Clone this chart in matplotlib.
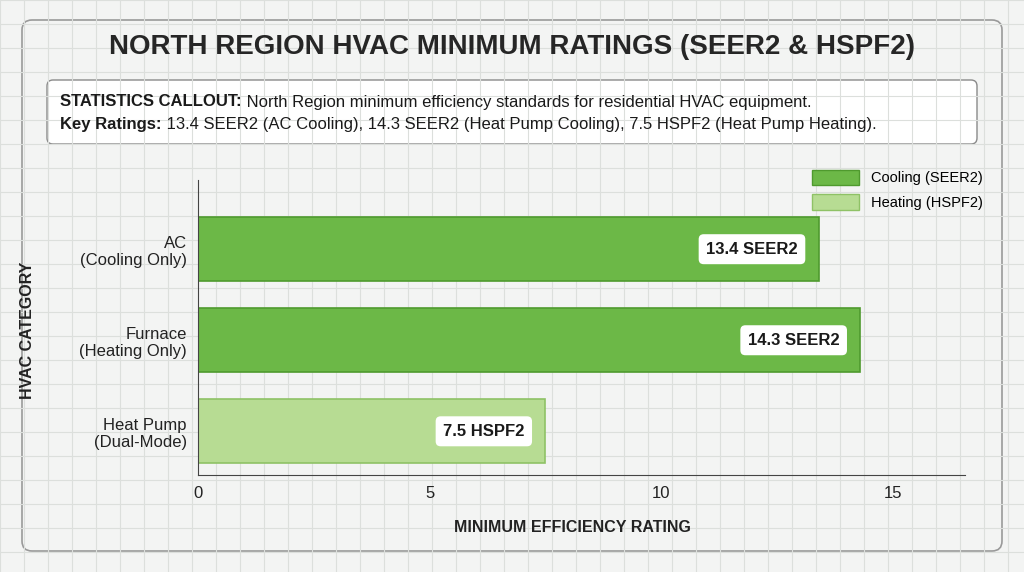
import matplotlib
matplotlib.use("Agg")
import matplotlib.pyplot as plt
from matplotlib.patches import FancyBboxPatch, Patch

plt.rcParams['font.family'] = ['Liberation Sans', 'DejaVu Sans']

categories = ["AC\n(Cooling Only)", "Furnace\n(Heating Only)", "Heat Pump\n(Dual-Mode)"]
values = [13.4, 14.3, 7.5]
labels = ["13.4 SEER2", "14.3 SEER2", "7.5 HSPF2"]
kinds = ["cool", "cool", "heat"]
ticks = [0, 5, 10, 15]

fc = {"cool": "#6cb847", "heat": "#b7dc93"}
ec = {"cool": "#4f9a2e", "heat": "#8fc266"}

fig = plt.figure(figsize=(10.24, 5.72), dpi=100)
fig.patch.set_facecolor("#f3f4f3")
bg = fig.add_axes([0, 0, 1, 1], zorder=-10)
bg.set_xlim(0, 1024); bg.set_ylim(572, 0); bg.axis("off")
for x in range(0, 1025, 24):
    bg.axvline(x, color="#dcdfdc", lw=0.8)
for y in range(0, 573, 24):
    bg.axhline(y, color="#dcdfdc", lw=0.8)
bg.add_patch(FancyBboxPatch((22, 20), 980, 531, boxstyle="round,pad=0,rounding_size=10",
                            fc="none", ec="#9a9a9a", lw=1.2))
bg.text(512, 47, "NORTH REGION HVAC MINIMUM RATINGS (SEER2 & HSPF2)", ha="center", va="center",
        fontsize=20, fontweight="bold", color="#262626")
bg.add_patch(FancyBboxPatch((47, 80), 930, 64, boxstyle="round,pad=0,rounding_size=6",
                            fc="white", ec="#8a8a8a", lw=1))
t1 = bg.text(60, 102, "STATISTICS CALLOUT:", va="center", fontsize=12, fontweight="bold", color="#1a1a1a")
bg.annotate(" North Region minimum efficiency standards for residential HVAC equipment.",
            xy=(1, 0.5), xycoords=t1, va="center", fontsize=12, color="#1a1a1a")
t2 = bg.text(60, 124, "Key Ratings:", va="center", fontsize=12, fontweight="bold", color="#1a1a1a")
bg.annotate(" 13.4 SEER2 (AC Cooling), 14.3 SEER2 (Heat Pump Cooling), 7.5 HSPF2 (Heat Pump Heating).",
            xy=(1, 0.5), xycoords=t2, va="center", fontsize=12, color="#1a1a1a")
bg.text(28, 330, "HVAC CATEGORY", rotation=90, ha="center", va="center", fontsize=11.5, fontweight="bold", color="#222")
bg.text(572, 527, "MINIMUM EFFICIENCY RATING", ha="center", va="center", fontsize=11.5, fontweight="bold", color="#222")

ax = fig.add_axes([198/1024, 1-475/572, (965-198)/1024, (475-180)/572])
ax.patch.set_alpha(0)
ypos = list(range(len(categories)))
for i, (v, k, lab) in enumerate(zip(values, kinds, labels)):
    ax.barh(i, v, height=0.70, color=fc[k], edgecolor=ec[k], lw=1.2)
    ax.text(v - 0.45, i, lab, ha="right", va="center", fontsize=12, fontweight="bold", color="#1a1a1a",
            bbox=dict(boxstyle="round,pad=0.45,rounding_size=0.3", fc="white", ec="none"))
ax.set_xlim(0, 16.56)
ax.set_ylim(2.48, -0.76)
ax.set_yticks(ypos)
ax.set_yticklabels(categories, fontsize=12, color="#222")
ax.set_xticks(ticks)
ax.set_xticklabels([str(t) for t in ticks], fontsize=12, color="#222")
ax.tick_params(length=0, pad=8)
for s in ["top", "right"]:
    ax.spines[s].set_visible(False)
for s in ["left", "bottom"]:
    ax.spines[s].set_color("#444")
ax.legend(handles=[Patch(fc=fc["cool"], ec=ec["cool"], label="Cooling (SEER2)"),
                   Patch(fc=fc["heat"], ec=ec["heat"], label="Heating (HSPF2)")],
          loc="upper right", bbox_to_anchor=(1.04, 1.08), frameon=False, fontsize=10.5,
          handlelength=3.2, handleheight=1.3, labelspacing=0.6)
fig.savefig("out.png", dpi=100, facecolor=fig.get_facecolor())
